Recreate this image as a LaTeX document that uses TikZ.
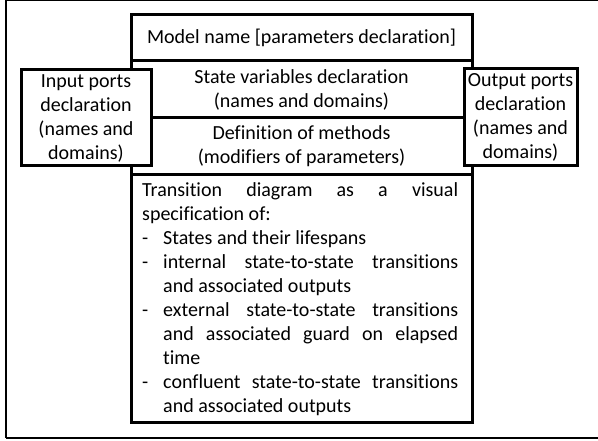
\documentclass[tikz,border=0pt]{standalone}
\usepackage{fontspec}
\setmainfont[Ligatures=NoCommon]{Carlito}
\begin{document}
\begin{tikzpicture}[x=1pt,y=-1pt,
  box/.style={draw=black,line width=3pt,fill=white,inner sep=0pt,align=center,
    font=\fontsize{20}{24}\selectfont},
]
\useasboundingbox (0,0) rectangle (598,441);
% outer frame (screenshot border)
\coordinate (tl) at (6,0.5);
\coordinate (tr) at (598,0.5);
\coordinate (bl) at (6,438);
\coordinate (br) at (598,438);
\draw[line width=1pt] (tl) -- (tr);
\draw[line width=2.2pt] (tl) -- (bl);
\draw[line width=2.6pt] (bl) -- (br);
% central stack
\node[box,minimum width=341pt,minimum height=46pt] (model) at (301.5,38) {Model name [parameters declaration]};
\node[box,minimum width=341pt,minimum height=57pt] (state) at (301.5,89.5) {State variables declaration\\(names and domains)};
\node[box,minimum width=341pt,minimum height=57pt] (meth) at (301.5,146.5) {Definition of methods\\(modifiers of parameters)};
\node[box,minimum width=341pt,minimum height=247pt] (trans) at (301.5,298.5) {};
\node[anchor=north west,inner sep=0pt,text width=316pt,align=justify,
  font=\fontsize{20}{24}\selectfont] (transtext) at (142,182) {%
Transition diagram as a visual\linebreak specification of:\par
\hangindent=21pt\hangafter=1\noindent\makebox[21pt][l]{-}States and their lifespans\par
\hangindent=21pt\hangafter=1\noindent\makebox[21pt][l]{-}internal state-to-state transitions\linebreak and associated outputs\par
\hangindent=21pt\hangafter=1\noindent\makebox[21pt][l]{-}external state-to-state transitions\linebreak and associated guard on elapsed\linebreak time\par
\hangindent=21pt\hangafter=1\noindent\makebox[21pt][l]{-}confluent state-to-state transitions\linebreak and associated outputs\par};
% port boxes
\node[box,minimum width=130pt,minimum height=96pt] (inp) at (86,118) {Input ports\\declaration\\(names and\\domains)};
\node[box,minimum width=113pt,minimum height=97pt] (outp) at (520.5,117.5) {Output ports\\declaration\\(names and\\domains)};
\end{tikzpicture}
\end{document}
